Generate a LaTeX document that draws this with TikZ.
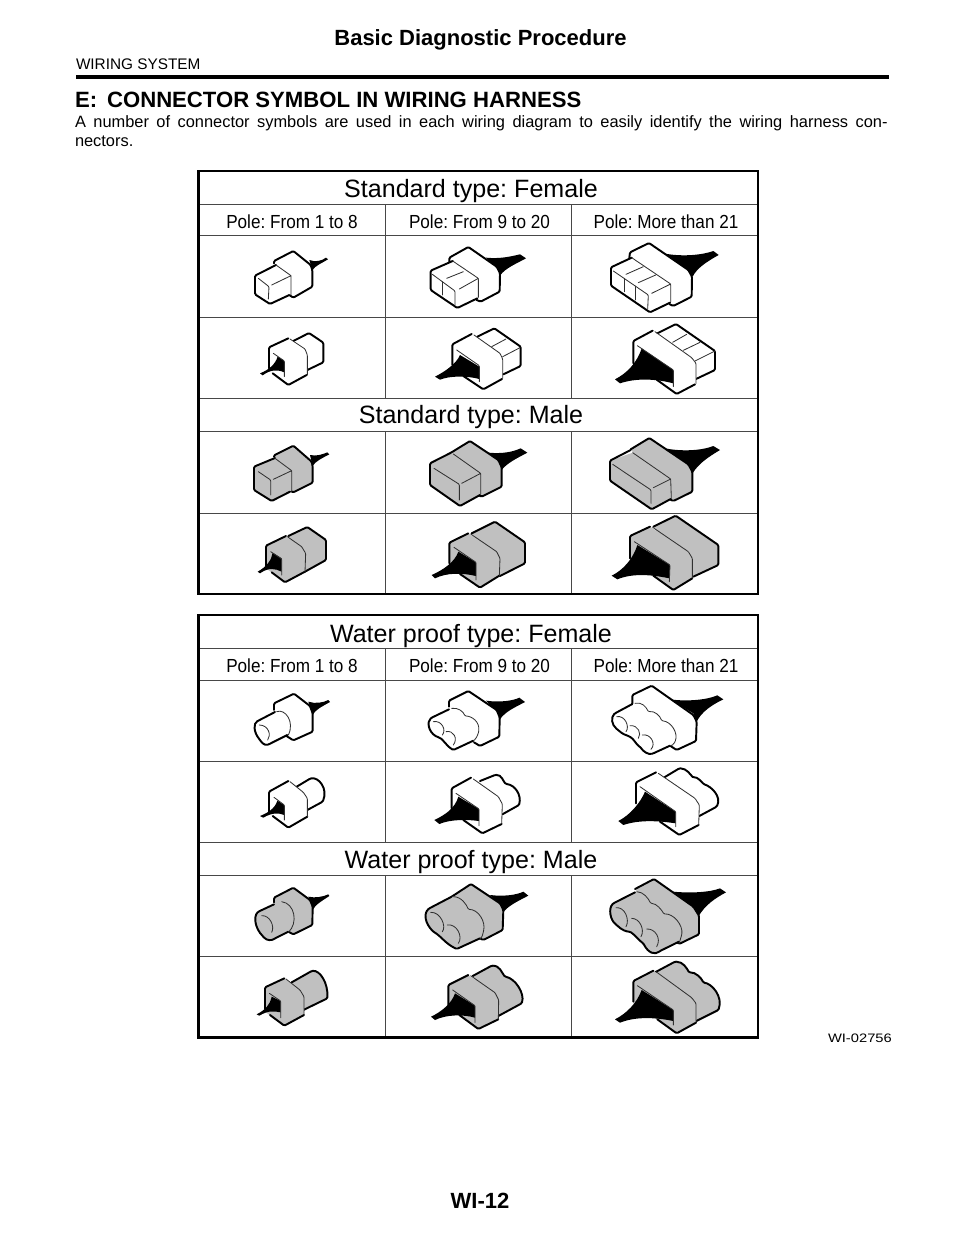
\documentclass[tikz,border=0pt]{standalone}
\usepackage{fontspec}
\usepackage{graphicx}
\setmainfont{Liberation Sans}
\frenchspacing
\definecolor{G}{HTML}{C0C0C0}
\definecolor{TN}{HTML}{303030}
\definecolor{GR}{HTML}{484848}
\tikzset{
  z/.style 2 args={shift={(#1,#2)},x=.25pt,y=-.25pt},
  tk/.style={line width=1.45pt,line join=round,line cap=round,rounded corners=.9pt},
  tn/.style={line width=.62pt,color=TN,line cap=round,line join=round,rounded corners=.7pt},
  outerb/.style={line width=2.2pt,line join=miter},
  grid/.style={line width=.75pt,color=GR},
  txt/.style={inner sep=0pt,outer sep=0pt,anchor=base west,text=black},
  ctr/.style={inner sep=0pt,outer sep=0pt,anchor=base,text=black},
  ttl/.style={ctr,font=\fontsize{18.8pt}{22pt}\selectfont},
  hdr/.style={ctr,font=\fontsize{14.2pt}{17pt}\selectfont}
}
\newcommand{\hd}[1]{\scalebox{.905}[1]{#1}}
\begin{document}
\begin{tikzpicture}[x=.75pt,y=-.75pt]
\useasboundingbox (0,0) rectangle (960,1242);
\fill[white] (0,0) rectangle (960,1242);
% page heading
\node[ctr,font=\fontsize{16.5pt}{20pt}\selectfont\bfseries] (head) at (480.5,45) {Basic Diagnostic Procedure};
\node[txt,font=\fontsize{11.5pt}{13pt}\selectfont] (sys) at (76,69) {WIRING SYSTEM};
\coordinate (ruleL) at (76,77); \coordinate (ruleR) at (889,77);
\draw[line width=2.6pt] (ruleL) -- (ruleR);
\node[txt,font=\fontsize{16.6pt}{19pt}\selectfont\bfseries] (sec) at (75,107.5) {E:\hspace{.45em}CONNECTOR SYMBOL IN WIRING HARNESS};
\node[txt,font=\fontsize{12.3pt}{14pt}\selectfont] (p1) at (75,127) {\hbox to 609.5pt{A number of connector symbols are used in each wiring diagram to easily identify the wiring harness con-}};
\node[txt,font=\fontsize{12.3pt}{14pt}\selectfont] (p2) at (75,146) {nectors.};
\node[ctr,font=\fontsize{16.5pt}{18pt}\selectfont\bfseries] (pg) at (480,1208) {WI-12};
\node[txt,font=\fontsize{9.2pt}{11pt}\selectfont] (wi) at (828,1042) {\scalebox{1.2}[1]{WI-02756}};

% table 1 grid
\foreach \y in {204,235,317,398,431,513}{\draw[grid] (199,\y) -- (758,\y);}
\foreach \x in {385,571.5}{\draw[grid] (\x,204) -- (\x,398); \draw[grid] (\x,431) -- (\x,594);}
\draw[outerb] (198.5,171) rectangle (758,594);
% table 2 grid
\foreach \y in {648,680,761,842,875,956}{\draw[grid] (199,\y) -- (758,\y);}
\foreach \x in {385,571.5}{\draw[grid] (\x,648) -- (\x,842); \draw[grid] (\x,875) -- (\x,1037);}
\draw[outerb] (198.5,615) rectangle (758,1037.5);

\node[ttl] (t1) at (471,197) {Standard type: Female};
\node[ttl] (t2) at (471,423) {Standard type: Male};
\node[ttl] (t3) at (471,642) {Water proof type: Female};
\node[ttl] (t4) at (471,868) {Water proof type: Male};
\node[hdr] (h1) at (292,228) {\hd{Pole: From 1 to 8}};
\node[hdr] (h2) at (479.5,228) {\hd{Pole: From 9 to 20}};
\node[hdr] (h3) at (666,228) {\hd{Pole: More than 21}};
\node[hdr] (h4) at (292,672) {\hd{Pole: From 1 to 8}};
\node[hdr] (h5) at (479.5,672) {\hd{Pole: From 9 to 20}};
\node[hdr] (h6) at (666,672) {\hd{Pole: More than 21}};

%%%%% STANDARD FEMALE
\begin{scope}[z={200}{235}]
% A1
\fill (328,75) .. controls (345,82) and (365,78) .. (378,68) -- (384,73) .. controls (365,85) and (345,92) .. (337,106) -- cycle;
\filldraw[tk,fill=white] (222,85)--(222,78)--(280,48)--(332,90)--(337,105)--(337,155)--(280,188)--(268,180);
\path[fill=white] (165,122)--(165,178)--(210,207)--(270,180)--(273,122)--(228,90)--cycle;
\draw[tk] (228,90)--(165,122)--(165,178)--(210,207)--(268,180);
\draw[tn] (228,90)--(273,122)--(273,180);
\draw[tn] (175,130)--(207,155)--(205,192);
\draw[tn] (215,150)--(273,122);
% A2
\filldraw[tk,fill=white] (280,318)--(327,294)--(370,323)--(370,382)--(322,405);
\path[fill=white] (207,337)--(265,310)--(310,337)--(322,360)--(322,420)--(265,450)--(207,405)--cycle;
\draw[tk] (207,400)--(207,337)--(265,310);
\draw[tk] (218,415)--(265,450)--(320,420);
\draw[tn] (270,312)--(315,342)--(322,360)--(322,420);
\fill (180,415) .. controls (205,405) and (225,390) .. (233,365) -- (253,378) -- (253,412) .. controls (230,402) and (210,405) .. (188,421) -- cycle;
\draw[tn] (220,355)--(253,378)--(253,425);
\end{scope}

\begin{scope}[z={400}{235}]
% B1
\fill (258,68) .. controls (300,72) and (330,65) .. (360,58) -- (378,70) .. controls (345,88) and (315,100) .. (300,122) -- (288,100) -- cycle;
\filldraw[tk,fill=white] (148,82)--(148,68)--(205,36)--(290,95)--(300,115)--(299,170)--(242,200)--(230,195);
\path[fill=white] (92,107)--(92,165)--(172,219)--(235,187)--(235,130)--(158,78)--cycle;
\draw[tk] (158,78)--(92,107)--(92,165)--(172,219)--(232,190);
\draw[tn] (158,78)--(235,130)--(235,187);
\draw[tn] (97,118)--(165,168)--(165,210);
\draw[tn] (128,140)--(128,180);
\draw[tn] (140,130)--(190,110);
\draw[tn] (178,162)--(235,130);
% B2
\filldraw[tk,fill=white] (232,305)--(283,280)--(362,335)--(362,393)--(310,418);
\draw[tn] (275,335)--(318,312);
\draw[tn] (308,365)--(360,338);
\path[fill=white] (157,328)--(215,297)--(300,355)--(308,372)--(308,430)--(250,463)--(157,395)--cycle;
\draw[tk] (157,390)--(157,328)--(215,297);
\draw[tk] (190,423)--(250,463)--(306,432);
\draw[tn] (222,300)--(300,355)--(308,372)--(308,430);
\fill (105,425) .. controls (135,410) and (170,385) .. (180,360) -- (238,395) -- (238,432) .. controls (200,422) and (150,422) .. (120,434) -- cycle;
\draw[tn] (170,345)--(238,392)--(238,440);
\end{scope}

\begin{scope}[z={480}{235}]
% C1
\fill (550,55) .. controls (600,65) and (660,62) .. (700,48) -- (716,60) .. controls (680,80) and (650,100) .. (638,125) -- (620,100) -- cycle;
\filldraw[tk,fill=white] (448,68)--(450,52)--(507,24)--(625,105)--(636,125)--(635,185)--(580,213)--(568,207);
\path[fill=white] (393,97)--(393,152)--(510,232)--(572,200)--(572,147)--(455,68)--cycle;
\draw[tk] (455,68)--(393,97)--(393,152)--(510,232)--(570,203);
\draw[tn] (455,68)--(572,147)--(572,200);
\draw[tn] (400,108)--(505,180)--(503,222);
\draw[tn] (432,130)--(432,170);
\draw[tn] (467,153)--(467,195);
\draw[tn] (438,118)--(490,95);
\draw[tn] (475,143)--(527,120);
\draw[tn] (515,175)--(572,147);
% C2
\filldraw[tk,fill=white] (530,296)--(588,267)--(705,348)--(705,405)--(648,432);
\draw[tn] (578,322)--(620,298);
\draw[tn] (610,346)--(660,322);
\draw[tn] (645,378)--(705,348);
\path[fill=white] (460,318)--(518,287)--(630,365)--(648,390)--(648,448)--(590,477)--(460,390)--cycle;
\draw[tk] (460,385)--(460,318)--(518,287);
\draw[tk] (530,434)--(590,477)--(645,448);
\draw[tn] (525,290)--(635,368)--(648,385)--(648,445);
\fill (405,433) .. controls (440,415) and (470,385) .. (485,340) -- (580,405) -- (580,445) .. controls (530,432) and (470,428) .. (420,445) -- cycle;
\draw[tn] (472,332)--(580,405)--(580,455);
\end{scope}

%%%%% STANDARD MALE
\begin{scope}[z={200}{430}]
% A3
\fill (330,75) .. controls (350,80) and (370,72) .. (382,67) -- (388,73) .. controls (365,85) and (345,95) .. (338,108) -- cycle;
\filldraw[tk,fill=G] (222,80)--(222,76)--(280,47)--(335,95)--(338,110)--(338,158)--(280,187)--(270,182);
\path[fill=G] (162,110)--(162,180)--(215,213)--(275,183)--(275,122)--(225,85)--cycle;
\draw[tk] (225,84)--(162,110)--(162,180)--(215,213)--(270,185);
\draw[tn] (225,85)--(275,122)--(275,183);
\draw[tn] (175,125)--(212,150)--(212,195);
\draw[tn] (220,148)--(275,122);
% A4
\filldraw[tk,fill=G] (265,318)--(322,291)--(378,330)--(378,390)--(315,425);
\path[fill=G] (198,347)--(255,318)--(305,350)--(317,370)--(315,425)--(255,457)--(198,415)--cycle;
\draw[tk] (198,408)--(198,347)--(258,318);
\draw[tk] (215,427)--(255,457)--(315,425);
\draw[tn] (262,320)--(305,350)--(317,370)--(315,425);
\fill (173,425) .. controls (200,410) and (215,390) .. (218,368) -- (245,385) -- (245,425) .. controls (225,415) and (205,412) .. (180,430) -- cycle;
\draw[tn] (212,365)--(245,387)--(245,435);
\end{scope}

\begin{scope}[z={400}{430}]
% B3
\fill (265,68) .. controls (310,72) and (340,65) .. (362,55) -- (382,68) .. controls (350,85) and (320,100) .. (305,120) -- (290,95) -- cycle;
\filldraw[tk,fill=G] (153,68)--(210,33)--(295,90)--(305,112)--(305,170)--(245,200)--(235,195);
\path[fill=G] (90,100)--(90,165)--(180,228)--(242,192)--(242,130)--(155,70)--cycle;
\draw[tk] (153,68)--(90,100)--(90,165)--(180,228)--(240,195);
\draw[tn] (160,72)--(242,130)--(242,192);
\draw[tn] (102,115)--(178,163)--(178,210);
\draw[tn] (185,160)--(242,130);
% B4
\filldraw[tk,fill=G] (215,310)--(285,275)--(375,337)--(375,400)--(300,438);
\path[fill=G] (148,338)--(205,310)--(285,362)--(300,385)--(298,437)--(240,473)--(148,405)--cycle;
\draw[tk] (148,400)--(148,338)--(205,310);
\draw[tk] (180,432)--(240,473)--(298,437);
\draw[tn] (212,312)--(290,365)--(300,385)--(298,437);
\fill (95,435) .. controls (130,420) and (165,395) .. (175,365) -- (228,397) -- (228,438) .. controls (185,428) and (140,428) .. (105,445) -- cycle;
\draw[tn] (162,352)--(228,397)--(228,450);
\end{scope}

\begin{scope}[z={480}{430}]
% C3
\fill (555,55) .. controls (605,65) and (665,62) .. (700,48) -- (720,60) .. controls (690,78) and (655,100) .. (638,130) -- (620,100) -- cycle;
\filldraw[tk,fill=G] (452,58)--(508,24)--(625,103)--(637,125)--(637,185)--(580,213)--(570,208);
\path[fill=G] (390,92)--(390,152)--(515,238)--(575,205)--(572,147)--(458,68)--cycle;
\draw[tk] (452,60)--(390,92)--(390,152)--(515,238)--(572,207);
\draw[tn] (458,68)--(572,147)--(574,205);
\draw[tn] (398,103)--(513,180)--(513,220);
\draw[tn] (520,173)--(572,147);
% C4
\filldraw[tk,fill=G] (520,290)--(587,257)--(715,345)--(715,405)--(640,440);
\path[fill=G] (450,318)--(510,290)--(625,365)--(637,385)--(637,445)--(580,480)--(450,390)--cycle;
\draw[tk] (450,385)--(450,318)--(510,290);
\draw[tk] (520,437)--(580,480)--(637,445);
\draw[tn] (518,292)--(625,365)--(637,385)--(637,445);
\fill (395,437) .. controls (430,420) and (460,385) .. (472,345) -- (570,405) -- (568,445) .. controls (520,435) and (460,428) .. (412,448) -- cycle;
\draw[tn] (463,335)--(570,405)--(568,455);
\end{scope}

%%%%% WATERPROOF FEMALE
\begin{scope}[z={200}{680}]
% A5
\fill (325,65) .. controls (345,72) and (370,68) .. (385,60) -- (390,66) .. controls (365,80) and (345,90) .. (338,105) -- cycle;
\filldraw[tk,fill=white] (222,90)--(222,70)--(282,41)--(330,78)--(338,100)--(338,155)--(280,181)--(258,167);
\path[fill=white] (225,96)--(175,122) .. controls (160,130) and (160,155) .. (180,180) .. controls (190,195) and (200,197) .. (212,190)--(262,165) .. controls (285,150) and (280,90) .. (235,93)--cycle;
\draw[tk] (225,96)--(175,122) .. controls (160,130) and (160,155) .. (180,180) .. controls (190,195) and (200,197) .. (212,190)--(262,165);
\draw[tn] (230,95) .. controls (255,85) and (285,125) .. (265,165);
\draw[tn] (178,135) .. controls (205,135) and (215,165) .. (203,180);
% A6
\filldraw[tk,fill=white] (290,320)--(330,296) .. controls (355,290) and (385,325) .. (368,365)--(322,390);
\path[fill=white] (207,335)--(265,303)--(310,337)--(322,360)--(322,410)--(265,443)--(207,400)--cycle;
\draw[tk] (207,395)--(207,335)--(265,303);
\draw[tk] (218,408)--(265,443)--(322,410);
\draw[tn] (270,305)--(310,337)--(322,355)--(322,410);
\fill (180,408) .. controls (205,398) and (225,385) .. (232,362) -- (253,375) -- (253,405) .. controls (235,398) and (215,398) .. (190,413) -- cycle;
\draw[tn] (222,352)--(253,375)--(253,420);
\end{scope}

\begin{scope}[z={400}{680}]
% B5
\fill (258,62) .. controls (300,68) and (340,62) .. (358,53) -- (375,66) .. controls (345,82) and (315,95) .. (300,118) -- (285,90) -- cycle;
\filldraw[tk,fill=white] (147,80)--(147,62)--(205,33)--(290,90)--(299,112)--(298,170)--(240,198)--(222,187);
\path[fill=white] (147,88)--(95,113) .. controls (80,125) and (85,155) .. (110,170) .. controls (130,175) and (135,195) .. (160,210)--(220,182) .. controls (245,165) and (240,125) .. (215,110) .. controls (205,100) and (190,80) .. (155,85)--cycle;
\draw[tk] (147,88)--(95,113) .. controls (80,125) and (85,155) .. (110,170) .. controls (130,175) and (135,195) .. (160,210)--(220,182);
\draw[tn] (155,85) .. controls (175,82) and (190,95) .. (195,108) .. controls (215,108) and (240,125) .. (236,155) .. controls (232,170) and (225,180) .. (220,182);
\draw[tn] (100,125) .. controls (125,120) and (140,150) .. (127,165);
\draw[tn] (138,155) .. controls (160,150) and (175,175) .. (160,195);
% B6
\filldraw[tk,fill=white] (240,303)--(285,285) .. controls (305,283) and (310,305) .. (318,312) .. controls (345,315) and (365,345) .. (357,375)--(307,403);
\path[fill=white] (155,325)--(213,293)--(295,350)--(307,372)--(305,432)--(247,460)--(155,395)--cycle;
\draw[tk] (155,385)--(155,325)--(213,293);
\draw[tk] (190,420)--(247,460)--(305,432);
\draw[tn] (220,297)--(295,350)--(307,372)--(305,430);
\fill (103,420) .. controls (135,405) and (165,385) .. (175,350) -- (237,387) -- (237,423) .. controls (200,418) and (150,418) .. (118,432) -- cycle;
\draw[tn] (168,340)--(237,387)--(237,437);
%%%%% WATERPROOF MALE, middle column
% B7
\fill (270,645) .. controls (310,650) and (350,645) .. (370,635) -- (385,647) .. controls (350,665) and (320,680) .. (308,700) -- (295,670) -- cycle;
\filldraw[tk,fill=G] (155,650)--(213,612)--(300,670)--(310,690)--(308,750)--(250,780)--(240,775);
\path[fill=G] (155,650)--(88,685) .. controls (70,700) and (75,730) .. (100,755) .. controls (125,770) and (135,790) .. (170,807)--(240,775) .. controls (260,750) and (255,705) .. (220,690) .. controls (205,670) and (180,645) .. (155,650)--cycle;
\draw[tk] (155,650)--(88,685) .. controls (70,700) and (75,730) .. (100,755) .. controls (125,770) and (135,790) .. (170,807)--(240,775);
\draw[tn] (160,650) .. controls (185,650) and (200,675) .. (205,688) .. controls (235,688) and (258,725) .. (250,755) .. controls (247,770) and (243,775) .. (240,778);
\draw[tn] (92,697) .. controls (122,695) and (140,740) .. (127,755);
\draw[tn] (142,735) .. controls (170,730) and (190,770) .. (175,790);
% B8
\filldraw[tk,fill=G] (218,888)--(275,857) .. controls (300,857) and (305,878) .. (315,890) .. controls (345,895) and (375,940) .. (365,970)--(295,1008);
\path[fill=G] (145,915)--(205,885)--(285,938)--(296,960)--(295,1018)--(235,1047)--(145,985)--cycle;
\draw[tk] (145,975)--(145,915)--(205,885);
\draw[tk] (178,1005)--(235,1047)--(295,1018);
\draw[tn] (212,887)--(285,938)--(296,960)--(295,1018);
\fill (93,1010) .. controls (125,995) and (155,970) .. (165,940) -- (225,977) -- (225,1013) .. controls (190,1003) and (140,1003) .. (105,1020) -- cycle;
\draw[tn] (158,930)--(225,977)--(225,1027);
\end{scope}

\begin{scope}[z={480}{680}]
% C5
\fill (570,58) .. controls (620,65) and (680,60) .. (712,46) -- (730,58) .. controls (695,75) and (665,95) .. (650,125) -- (640,100) -- cycle;
\filldraw[tk,fill=white] (457,72)--(457,45)--(515,17)--(640,105)--(650,125)--(648,183)--(590,210)--(570,197);
\path[fill=white] (457,72)--(405,100) .. controls (392,112) and (395,135) .. (412,148) .. controls (430,165) and (440,165) .. (448,170) .. controls (460,175) and (470,195) .. (480,200) .. controls (490,215) and (505,225) .. (520,220)--(570,197) .. controls (595,185) and (595,125) .. (545,122) .. controls (540,108) and (525,92) .. (505,95) .. controls (498,80) and (485,65) .. (465,70)--cycle;
\draw[tk] (457,72)--(405,100) .. controls (392,112) and (395,135) .. (412,148) .. controls (430,165) and (440,165) .. (448,170) .. controls (460,175) and (470,195) .. (480,200) .. controls (490,215) and (505,225) .. (520,220)--(570,197);
\draw[tn] (465,70) .. controls (485,65) and (498,80) .. (505,95) .. controls (525,92) and (540,108) .. (545,122) .. controls (575,125) and (595,160) .. (585,185) .. controls (580,195) and (575,197) .. (570,197);
\draw[tn] (410,110) .. controls (435,105) and (450,140) .. (438,155);
\draw[tn] (450,137) .. controls (475,135) and (485,160) .. (475,175);
\draw[tn] (487,165) .. controls (510,160) and (530,190) .. (513,208);
% C6
\filldraw[tk,fill=white] (553,292)--(598,265) .. controls (620,265) and (632,285) .. (640,293) .. controls (650,290) and (665,305) .. (670,312) .. controls (695,320) and (725,350) .. (710,380)--(658,408);
\path[fill=white] (468,307)--(528,277)--(645,355)--(658,375)--(656,435)--(598,465)--(468,375)--cycle;
\draw[tk] (468,370)--(468,307)--(528,277);
\draw[tk] (540,425)--(598,465)--(656,435);
\draw[tn] (535,280)--(645,355)--(658,375)--(656,435);
\fill (415,423) .. controls (450,405) and (480,370) .. (495,335) -- (587,395) -- (587,430) .. controls (540,423) and (480,418) .. (430,435) -- cycle;
\draw[tn] (480,320)--(587,395)--(587,440);
\end{scope}

%%%%% WATERPROOF MALE
\begin{scope}[z={200}{875}]
% A7
\fill (325,65) .. controls (345,70) and (370,65) .. (385,58) -- (388,63) .. controls (365,78) and (345,90) .. (338,105) -- cycle;
\filldraw[tk,fill=G] (222,82)--(222,68)--(280,38)--(330,75)--(338,95)--(337,150)--(280,178)--(265,170);
\path[fill=G] (222,88)--(175,110) .. controls (160,125) and (165,160) .. (190,185) .. controls (200,197) and (215,197) .. (225,190)--(265,170) .. controls (295,145) and (285,85) .. (245,80)--cycle;
\draw[tk] (222,88)--(175,110) .. controls (160,125) and (165,160) .. (190,185) .. controls (200,197) and (215,197) .. (225,190)--(265,170);
\draw[tn] (245,80) .. controls (285,85) and (295,145) .. (265,172);
\draw[tn] (185,122) .. controls (210,120) and (225,155) .. (215,172);
% A8
\filldraw[tk,fill=G] (275,322)--(335,288) .. controls (360,285) and (385,325) .. (382,370)--(310,405);
\path[fill=G] (195,337)--(253,310)--(300,345)--(312,365)--(312,420)--(253,452)--(195,410)--cycle;
\draw[tk] (195,402)--(195,337)--(253,310);
\draw[tk] (210,420)--(253,452)--(312,420);
\draw[tn] (258,312)--(300,345)--(312,365)--(312,420);
\fill (170,418) .. controls (195,405) and (210,390) .. (215,365) -- (242,378) -- (242,412) .. controls (220,408) and (205,406) .. (178,422) -- cycle;
\draw[tn] (208,355)--(242,378)--(242,428);
\end{scope}

\begin{scope}[z={480}{875}]
% C7
\fill (580,50) .. controls (630,55) and (690,52) .. (720,40) -- (738,52) .. controls (705,70) and (675,90) .. (655,125) -- (640,95) -- cycle;
\filldraw[tk,fill=G] (465,42)--(522,12)--(640,95)--(657,122)--(657,178)--(597,207)--(590,200);
\path[fill=G] (465,52)--(400,85) .. controls (385,100) and (390,135) .. (410,150) .. controls (425,165) and (440,170) .. (450,170) .. controls (465,180) and (475,195) .. (490,205) .. controls (505,235) and (525,240) .. (540,228)--(597,200) .. controls (615,175) and (600,115) .. (552,117) .. controls (545,105) and (530,85) .. (512,85) .. controls (505,70) and (490,50) .. (470,50)--cycle;
\draw[tk] (465,52)--(400,85) .. controls (385,100) and (390,135) .. (410,150) .. controls (425,165) and (440,170) .. (450,170) .. controls (465,180) and (475,195) .. (490,205) .. controls (505,235) and (525,240) .. (540,228)--(597,200);
\draw[tn] (470,50) .. controls (490,50) and (505,70) .. (512,85) .. controls (530,85) and (545,105) .. (552,117) .. controls (580,115) and (610,150) .. (605,180) .. controls (600,195) and (600,200) .. (597,205);
\draw[tn] (408,98) .. controls (435,95) and (450,135) .. (438,155);
\draw[tn] (455,130) .. controls (480,130) and (495,165) .. (483,185);
\draw[tn] (500,162) .. controls (525,160) and (545,190) .. (530,215);
% C8
\filldraw[tk,fill=G] (525,292)--(585,260) .. controls (610,260) and (620,280) .. (628,293) .. controls (645,290) and (665,310) .. (670,323) .. controls (695,325) and (730,365) .. (715,405)--(645,440);
\path[fill=G] (460,318)--(520,287)--(635,365)--(648,385)--(648,443)--(590,475)--(460,385)--cycle;
\draw[tk] (460,380)--(460,318)--(520,287);
\draw[tk] (532,433)--(590,475)--(648,443);
\draw[tn] (528,290)--(635,368)--(648,385)--(648,443);
\fill (405,433) .. controls (440,415) and (470,385) .. (485,345) -- (580,405) -- (580,438) .. controls (530,428) and (470,423) .. (420,443) -- cycle;
\draw[tn] (472,332)--(580,405)--(580,450);
\end{scope}
\end{tikzpicture}
\end{document}
